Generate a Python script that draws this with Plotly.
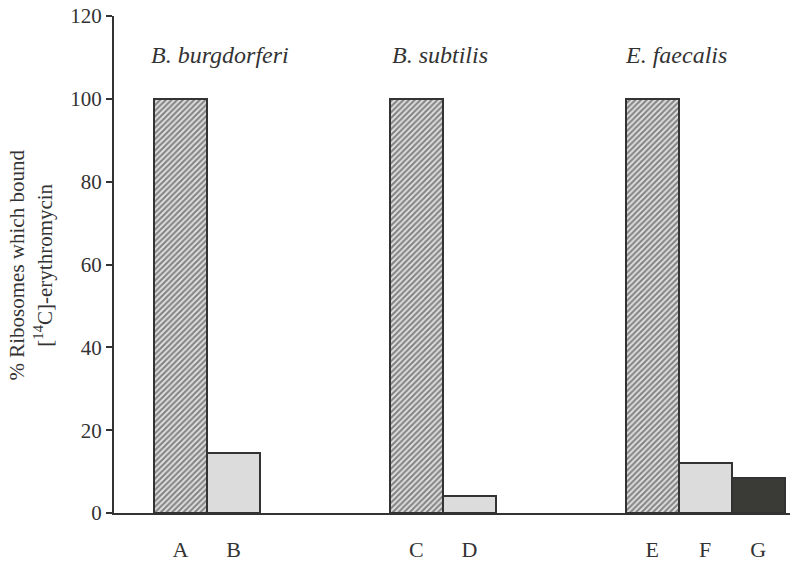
import plotly.graph_objects as go

# ---- data ----
categories = ["A", "B", "C", "D", "E", "F", "G"]
group_of_bar = [0, 0, 1, 1, 2, 2, 2]
index_in_group = [0, 1, 0, 1, 0, 1, 2]
values = [100, 14.5, 100, 4, 100, 12, 8.5]
bar_style = ["hatch", "light", "hatch", "light", "hatch", "light", "dark"]
species = ["B. burgdorferi", "B. subtilis", "E. faecalis"]
y_ticks = [0, 20, 40, 60, 80, 100, 120]

# ---- layout constants ----
GROUP_SPACING = 4.45
x_pos = [g * GROUP_SPACING + i for g, i in zip(group_of_bar, index_in_group)]
species_x = [0.74, 4.9, 9.35]
species_y = 110.6

FONT = "Liberation Serif, Times New Roman, serif"
INK = "#333333"

styles = {
    "hatch": dict(color="#e6e6e6", pattern=dict(shape="/", fgcolor="#262626", bgcolor="#e6e6e6",
                                                 size=4, solidity=0.55)),
    "light": dict(color="#dcdcdc"),
    "dark": dict(color="#3a3a36"),
}

fig = go.Figure()
for kind in ["hatch", "light", "dark"]:
    xs = [x for x, s in zip(x_pos, bar_style) if s == kind]
    ys = [v for v, s in zip(values, bar_style) if s == kind]
    m = dict(styles[kind])
    m["line"] = dict(color=INK, width=2)
    fig.add_trace(go.Bar(x=xs, y=ys, width=1.0, marker=m, showlegend=False, hoverinfo="skip"))

for name, sx in zip(species, species_x):
    fig.add_annotation(x=sx, y=species_y, text=f"<i>{name}</i>", showarrow=False,
                       font=dict(family=FONT, size=24, color=INK), xanchor="center", yanchor="middle")

fig.add_annotation(
    xref="paper", yref="paper", x=-0.1228, y=0.5, xanchor="center", yanchor="middle",
    textangle=-90, showarrow=False,
    text="% Ribosomes which bound<br>[<sup>14</sup>C]-erythromycin",
    font=dict(family=FONT, size=21, color=INK),
)

fig.update_layout(
    width=800, height=567,
    margin=dict(l=114, r=10, t=16, b=54),
    plot_bgcolor="white", paper_bgcolor="white",
    bargap=0,
    font=dict(family=FONT, color=INK),
)
fig.update_xaxes(
    range=[-1.255, 11.5], tickmode="array", tickvals=x_pos, ticktext=categories,
    showgrid=False, zeroline=False, showline=True, linecolor=INK, linewidth=2,
    ticks="", tickfont=dict(family=FONT, size=22, color=INK), ticklabelstandoff=16,
    automargin=False,
)
fig.update_yaxes(
    range=[0, 120], tickmode="array", tickvals=y_ticks,
    showgrid=False, zeroline=False, showline=True, linecolor=INK, linewidth=2,
    ticks="outside", ticklen=6, tickwidth=2, tickcolor=INK,
    tickfont=dict(family=FONT, size=21, color=INK), automargin=False,
    ticklabeloverflow="allow",
)

# remove the browser's default 8px body margin so the figure fills the window
fig.write_html("out.html", config={"displayModeBar": False},
               post_script="document.body.style.margin='0px';")
